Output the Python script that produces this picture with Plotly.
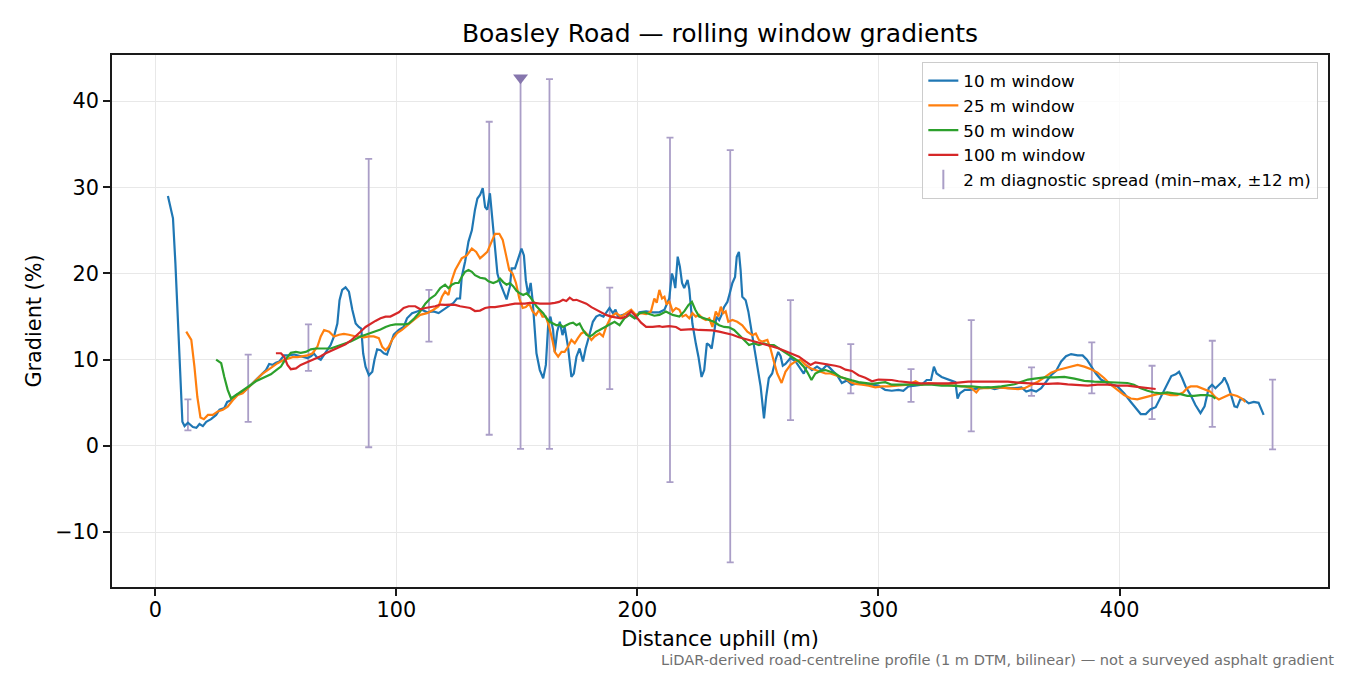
"""Boasley Road: rolling-window gradient profile from a LiDAR centreline."""
import plotly.graph_objects as go

# (distance uphill m, gradient %)
WIN_10 = [
    (5.2, 29.0), (7.3, 26.4), (8.3, 21.2), (9.4, 13.4), (10.5, 6.1), (11.2, 2.8),
    (12.1, 2.3), (13.5, 2.7), (15.6, 2.2), (17.0, 2.1), (18.3, 2.55), (19.7, 2.3),
    (21.1, 2.8), (23.1, 3.1), (25.2, 3.6), (26.6, 4.2), (28.6, 4.4), (29.8, 5.1),
    (31.4, 5.3), (33.5, 5.9), (35.5, 6.1), (37.6, 6.5), (39.7, 7.1), (41.7, 7.65),
    (43.8, 8.2), (45.9, 8.8), (47.2, 9.5), (48.6, 9.4), (50.0, 9.65), (51.4, 9.8),
    (53.4, 10.5), (55.5, 10.5), (57.6, 10.6), (59.7, 10.4), (61.7, 10.3), (63.1, 10.2),
    (64.5, 10.4), (65.8, 10.7), (67.2, 10.2), (68.6, 10.0), (70.0, 10.6), (71.3, 11.1),
    (72.7, 11.7), (74.1, 12.7), (75.5, 14.2), (76.4, 16.9), (77.5, 18.1), (78.9, 18.4),
    (80.3, 17.9), (81.7, 15.8), (83.1, 14.2), (84.4, 13.8), (85.4, 13.6), (86.2, 10.75),
    (87.2, 9.2), (88.6, 8.2), (90.0, 8.6), (90.9, 10.0), (92.0, 11.2), (93.4, 11.1),
    (94.8, 10.75), (96.1, 10.6), (97.5, 11.9), (98.9, 12.9), (101.0, 13.45), (103.0, 13.8),
    (104.4, 14.8), (106.5, 15.4), (108.6, 15.6), (110.6, 15.8), (112.7, 15.5), (115.4, 15.6),
    (117.5, 15.4), (119.6, 15.8), (121.6, 16.2), (123.7, 16.6), (125.1, 17.1), (126.4, 17.1),
    (127.1, 19.6), (128.5, 21.4), (129.9, 23.7), (131.3, 25.0), (132.6, 27.4), (133.6, 28.7),
    (134.7, 29.1), (135.8, 29.9), (136.8, 27.7), (137.7, 27.4), (138.8, 29.3), (139.8, 26.2),
    (140.9, 23.5), (141.9, 20.0), (143.0, 18.9), (144.3, 17.9), (145.7, 17.0), (147.1, 18.5),
    (147.8, 20.6), (149.2, 20.6), (150.5, 21.6), (151.9, 22.9), (152.9, 22.1), (153.7, 19.2),
    (154.7, 17.5), (155.7, 18.9), (156.5, 16.9), (157.4, 13.45), (158.1, 10.75), (159.5, 8.8),
    (160.9, 7.85), (162.0, 9.4), (163.0, 14.2), (163.9, 15.0), (165.0, 13.45), (165.7, 10.9),
    (166.7, 13.25), (167.8, 14.4), (168.9, 12.85), (169.8, 13.8), (171.2, 11.5), (172.6, 8.0),
    (173.6, 8.4), (174.7, 10.35), (176.0, 11.3), (177.4, 9.8), (178.5, 11.3), (179.9, 12.7),
    (181.5, 14.4), (182.9, 15.0), (184.3, 15.2), (185.9, 15.0), (187.0, 15.5), (188.4, 16.0),
    (189.8, 15.4), (190.9, 15.8), (191.9, 15.0), (194.0, 15.2), (196.0, 15.4), (198.1, 15.0),
    (199.4, 14.8), (200.8, 15.5), (203.6, 15.6), (206.3, 15.5), (209.1, 15.5), (211.2, 15.8),
    (213.2, 17.1), (214.3, 20.0), (214.9, 19.5), (215.7, 18.3), (216.7, 21.95), (217.6, 20.8),
    (218.5, 18.9), (219.4, 18.3), (220.8, 19.25), (221.5, 18.2), (222.8, 14.2), (224.2, 11.9),
    (225.3, 10.35), (226.6, 8.0), (227.7, 8.8), (228.8, 11.9), (229.8, 11.7), (230.8, 11.3),
    (231.8, 13.45), (232.8, 15.0), (233.9, 14.6), (234.9, 15.2), (235.9, 16.1), (237.3, 16.7),
    (238.3, 17.7), (239.4, 18.9), (240.5, 19.6), (241.2, 21.95), (242.1, 22.5), (242.8, 20.4),
    (243.5, 17.3), (244.9, 16.9), (246.0, 15.6), (247.0, 13.8), (248.3, 11.5), (249.7, 9.2),
    (251.1, 6.9), (252.5, 3.2), (253.4, 5.7), (254.5, 7.85), (255.9, 8.4), (257.3, 10.0),
    (258.4, 10.9), (259.4, 10.4), (260.3, 9.3), (261.4, 9.5), (263.5, 10.2), (265.6, 9.8),
    (267.6, 9.0), (269.0, 8.4), (270.4, 9.3), (272.4, 8.8), (274.5, 9.2), (276.6, 8.8),
    (278.6, 9.4), (280.7, 8.8), (282.8, 8.2), (284.8, 7.3), (286.9, 7.6), (289.0, 7.1),
    (291.7, 7.3), (294.5, 7.1), (297.3, 7.1), (300.0, 7.0), (302.8, 6.5), (305.5, 6.4),
    (308.3, 6.5), (310.3, 6.4), (312.4, 6.9), (315.2, 7.0), (317.9, 7.1), (320.0, 7.65),
    (321.8, 7.65), (323.0, 9.2), (324.1, 8.4), (326.2, 8.0), (328.2, 7.8), (330.3, 7.55),
    (331.9, 7.4), (332.8, 5.5), (333.8, 6.1), (335.8, 6.5), (337.9, 6.5), (340.0, 6.6),
    (342.7, 6.7), (345.5, 6.8), (348.2, 6.6), (351.0, 6.8), (353.7, 6.7), (356.5, 6.7),
    (359.3, 6.8), (361.3, 6.3), (363.4, 6.5), (365.4, 6.3), (367.5, 6.7), (369.6, 7.45),
    (371.6, 8.2), (373.7, 8.7), (375.8, 9.8), (377.8, 10.4), (379.9, 10.65), (382.6, 10.5),
    (384.7, 10.5), (386.5, 10.0), (388.2, 9.2), (390.2, 8.4), (392.3, 7.7), (395.0, 7.3),
    (399.2, 6.9), (401.9, 6.1), (404.7, 5.1), (406.7, 4.4), (408.8, 3.7), (410.9, 3.7),
    (412.9, 4.25), (415.0, 4.5), (416.4, 5.3), (417.8, 6.1), (419.8, 7.2), (421.5, 8.1),
    (423.3, 8.3), (424.7, 8.6), (426.0, 7.85), (427.4, 6.9), (429.5, 5.9), (431.5, 4.75),
    (433.6, 3.8), (435.3, 4.6), (437.0, 6.7), (438.4, 7.1), (439.8, 6.7), (441.2, 7.1),
    (442.6, 7.45), (443.5, 7.95), (444.9, 7.1), (446.3, 5.9), (447.7, 4.6), (448.8, 4.5),
    (450.1, 5.4), (451.5, 5.4), (453.6, 4.95), (455.7, 5.1), (457.7, 5.0), (459.8, 3.6),
]

WIN_25 = [
    (12.8, 13.25), (14.9, 12.3), (16.2, 9.2), (17.4, 5.7), (18.7, 3.3), (20.1, 3.1),
    (21.8, 3.6), (23.8, 3.6), (25.9, 4.0), (28.0, 4.2), (30.0, 4.55), (32.1, 5.3),
    (34.2, 5.9), (36.2, 6.1), (38.3, 6.7), (40.4, 7.3), (42.4, 7.85), (44.5, 8.4),
    (46.6, 8.8), (48.6, 9.2), (50.7, 9.6), (52.8, 9.9), (54.8, 10.1), (56.9, 10.3),
    (59.0, 10.3), (61.0, 10.4), (63.1, 10.5), (65.2, 10.75), (67.2, 11.5), (68.6, 12.7),
    (70.0, 13.45), (72.1, 13.25), (74.1, 12.7), (76.2, 12.9), (78.2, 13.0), (80.3, 12.9),
    (82.4, 12.75), (84.4, 12.7), (86.5, 12.6), (88.6, 12.7), (90.6, 12.7), (92.7, 12.5),
    (94.1, 11.5), (95.5, 11.1), (96.8, 11.5), (98.2, 12.3), (100.3, 13.1), (102.3, 13.45),
    (104.4, 14.0), (107.1, 14.6), (109.9, 15.2), (112.7, 15.4), (115.4, 15.8), (117.5, 16.2),
    (118.9, 17.3), (120.2, 17.9), (121.6, 17.5), (123.0, 19.25), (124.4, 20.4), (125.8, 21.2),
    (127.1, 21.75), (129.2, 22.1), (131.3, 22.9), (133.1, 22.5), (134.7, 21.75), (136.1, 22.1),
    (137.7, 22.5), (139.5, 23.7), (140.9, 24.6), (142.7, 24.6), (144.1, 23.9), (145.5, 22.1),
    (146.8, 20.4), (148.2, 20.0), (149.6, 18.9), (151.0, 17.1), (152.4, 16.0), (153.7, 16.1),
    (155.1, 16.5), (156.5, 15.6), (157.9, 15.2), (159.2, 15.8), (160.6, 15.0), (162.0, 15.0),
    (163.4, 13.8), (164.7, 12.3), (165.7, 10.9), (167.1, 10.35), (168.5, 10.9), (169.8, 10.9),
    (171.2, 11.5), (172.6, 12.3), (174.0, 11.9), (175.3, 12.5), (176.7, 13.05), (178.1, 13.25),
    (179.5, 12.85), (180.9, 12.3), (182.2, 12.7), (184.3, 13.05), (185.7, 12.7), (187.0, 13.8),
    (189.1, 15.0), (191.2, 15.4), (193.2, 15.0), (195.3, 15.4), (197.4, 15.8), (199.4, 15.2),
    (201.5, 15.4), (203.6, 15.3), (205.6, 15.6), (207.0, 17.1), (208.0, 16.6), (209.1, 18.1),
    (210.2, 17.1), (211.2, 17.3), (212.1, 16.4), (213.2, 16.8), (214.6, 15.6), (216.0, 16.0),
    (217.4, 15.8), (218.7, 15.0), (220.1, 15.2), (221.5, 14.8), (222.8, 15.4), (224.2, 15.0),
    (225.6, 15.2), (227.0, 14.8), (228.4, 14.6), (229.8, 14.8), (231.1, 13.8), (232.5, 15.6),
    (233.6, 15.0), (234.6, 16.15), (235.6, 15.4), (236.6, 15.6), (237.7, 14.4), (239.4, 14.6),
    (241.4, 14.4), (243.5, 14.0), (245.6, 13.25), (247.7, 12.85), (249.1, 13.05), (250.4, 12.3),
    (251.8, 12.1), (253.9, 12.3), (255.2, 11.3), (256.6, 9.8), (258.0, 8.4), (259.8, 7.3),
    (261.4, 8.6), (263.5, 9.4), (265.6, 9.8), (267.6, 10.0), (269.7, 9.4), (271.8, 9.0),
    (273.8, 8.8), (275.9, 8.6), (278.0, 8.4), (280.1, 8.4), (282.1, 8.2), (284.2, 8.0),
    (286.3, 7.8), (288.3, 7.4), (290.4, 7.2), (293.2, 7.1), (295.9, 7.0), (298.7, 6.8),
    (301.4, 6.9), (304.1, 6.9), (308.3, 7.0), (312.4, 7.1), (315.4, 7.5), (317.9, 7.1),
    (320.7, 7.3), (323.4, 7.2), (327.5, 7.1), (331.7, 7.0), (335.8, 6.9), (338.6, 6.7),
    (340.6, 6.2), (342.0, 6.7), (345.5, 6.7), (349.6, 6.8), (353.7, 6.7), (357.9, 6.6),
    (360.6, 6.7), (363.4, 7.1), (366.1, 7.45), (368.9, 7.95), (371.6, 8.5), (374.4, 8.8),
    (377.1, 9.0), (379.9, 9.2), (382.6, 9.4), (385.4, 9.2), (388.2, 8.9), (390.9, 8.5),
    (393.7, 7.85), (396.4, 7.1), (399.2, 6.5), (401.9, 5.9), (404.7, 5.5), (407.4, 5.4),
    (410.1, 5.6), (412.9, 5.8), (415.7, 6.0), (418.4, 6.1), (421.2, 5.9), (423.9, 5.9),
    (426.4, 6.2), (428.0, 6.7), (429.5, 6.9), (432.2, 6.9), (435.0, 6.6), (437.7, 6.3),
    (439.8, 5.65), (441.2, 5.4), (443.2, 5.65), (446.0, 6.0), (448.8, 5.8), (450.8, 5.5),
    (452.2, 5.1),
]

WIN_50 = [
    (25.2, 10.0), (27.3, 9.6), (28.6, 8.0), (30.0, 6.5), (31.4, 5.5), (33.5, 5.9),
    (35.5, 6.2), (37.6, 6.7), (39.7, 7.1), (41.7, 7.5), (43.8, 7.8), (45.9, 8.05),
    (47.9, 8.3), (50.0, 8.75), (52.1, 9.2), (53.4, 9.8), (54.8, 10.35), (56.2, 10.8),
    (58.3, 10.9), (60.3, 10.8), (62.4, 10.9), (64.5, 11.2), (66.5, 11.3), (68.6, 11.3),
    (70.7, 11.3), (72.7, 11.3), (74.8, 11.5), (76.9, 11.7), (78.9, 11.9), (81.0, 12.1),
    (83.1, 12.4), (85.1, 12.7), (87.2, 12.9), (89.3, 13.1), (91.3, 13.25), (93.4, 13.5),
    (95.5, 13.8), (97.5, 14.0), (99.6, 14.1), (101.7, 14.1), (103.7, 14.1), (105.1, 14.2),
    (107.1, 14.7), (109.9, 15.6), (112.0, 16.5), (114.0, 17.1), (116.1, 17.5), (118.2, 18.3),
    (120.2, 18.7), (121.6, 18.3), (123.0, 18.7), (124.4, 18.9), (125.8, 18.9), (127.1, 19.6),
    (128.5, 20.2), (129.9, 20.4), (131.3, 20.2), (132.6, 19.8), (134.7, 19.5), (136.8, 19.4),
    (138.2, 19.1), (140.2, 18.9), (141.9, 19.1), (143.0, 19.4), (144.3, 19.0), (145.7, 18.7),
    (147.1, 18.9), (148.5, 18.5), (149.8, 18.0), (151.2, 17.7), (152.6, 17.5), (154.0, 17.7),
    (155.4, 17.3), (156.7, 16.8), (158.1, 16.2), (159.5, 15.8), (160.9, 15.4), (162.3, 14.8),
    (163.6, 14.4), (165.0, 14.2), (166.4, 14.0), (167.8, 14.1), (169.1, 13.8), (170.5, 14.0),
    (171.9, 14.2), (173.3, 14.3), (174.7, 14.0), (176.0, 14.2), (177.4, 13.45), (178.8, 12.9),
    (180.2, 12.7), (181.5, 12.9), (182.9, 13.25), (184.3, 13.45), (186.4, 13.8), (188.4, 14.1),
    (190.5, 14.4), (192.6, 14.0), (194.6, 14.8), (196.7, 15.2), (198.8, 14.8), (200.8, 15.4),
    (202.9, 15.5), (204.9, 15.3), (207.0, 15.1), (209.1, 15.2), (211.8, 15.6), (214.6, 15.2),
    (217.4, 15.0), (219.4, 15.6), (221.2, 16.35), (222.6, 16.7), (224.0, 15.8), (225.6, 15.0),
    (227.7, 14.8), (229.8, 14.6), (231.8, 14.4), (233.9, 14.0), (236.0, 13.8), (238.0, 13.75),
    (240.1, 13.45), (242.1, 12.9), (244.2, 12.3), (246.3, 11.7), (248.3, 11.9), (250.4, 11.7),
    (252.5, 11.9), (254.5, 11.7), (256.6, 11.7), (258.7, 11.3), (260.7, 10.9), (262.8, 10.5),
    (264.9, 10.2), (266.9, 9.8), (269.0, 9.2), (270.4, 8.6), (272.2, 7.65), (273.8, 8.4),
    (275.9, 8.7), (278.0, 8.8), (280.1, 8.6), (282.1, 8.4), (284.2, 8.0), (286.3, 7.8),
    (289.0, 7.6), (291.7, 7.4), (294.5, 7.3), (297.3, 7.2), (300.0, 7.3), (302.8, 7.4),
    (305.5, 7.1), (309.6, 7.1), (313.8, 7.1), (317.9, 7.1), (322.1, 7.1), (326.2, 7.0),
    (330.3, 7.0), (334.5, 6.9), (338.6, 6.9), (342.7, 6.8), (346.8, 6.8), (351.0, 6.9),
    (353.7, 7.0), (356.5, 7.15), (359.3, 7.45), (362.0, 7.7), (364.8, 7.8), (368.9, 7.95),
    (373.0, 7.95), (377.1, 8.0), (381.3, 7.8), (385.4, 7.55), (389.5, 7.45), (393.7, 7.4),
    (397.8, 7.4), (401.0, 7.4), (403.3, 7.3), (406.0, 7.1), (408.8, 6.7), (411.6, 6.4),
    (414.3, 6.2), (417.1, 6.1), (419.8, 6.2), (422.6, 6.1), (425.3, 6.0), (428.1, 5.8),
    (430.9, 5.8), (433.6, 5.9), (436.4, 5.9), (438.4, 5.8), (439.8, 5.5),
]

WIN_100 = [
    (50.0, 10.75), (52.1, 10.75), (53.4, 10.35), (54.8, 9.4), (56.2, 8.9), (58.3, 9.0),
    (60.3, 9.4), (62.4, 9.65), (64.5, 9.95), (66.5, 10.2), (68.6, 10.4), (70.7, 10.75),
    (72.7, 11.0), (74.8, 11.3), (76.9, 11.5), (78.9, 11.8), (81.0, 12.2), (83.1, 12.7),
    (85.1, 13.25), (87.2, 13.8), (89.3, 14.2), (91.3, 14.5), (93.4, 14.8), (95.5, 15.0),
    (97.5, 15.0), (98.9, 15.2), (101.0, 15.5), (103.0, 16.0), (105.1, 16.2), (107.8, 16.2),
    (109.9, 15.85), (112.0, 16.0), (114.0, 16.1), (116.1, 16.2), (118.2, 16.4), (120.2, 16.35),
    (122.3, 16.4), (124.4, 16.35), (126.4, 16.2), (128.5, 16.1), (130.6, 16.0), (132.6, 15.65),
    (134.7, 15.7), (136.8, 16.0), (138.8, 16.1), (140.9, 16.1), (143.0, 16.2), (145.0, 16.35),
    (147.1, 16.45), (149.2, 16.5), (151.2, 16.5), (153.3, 16.5), (155.4, 16.6), (157.4, 16.6),
    (159.5, 16.5), (161.6, 16.5), (163.6, 16.5), (165.7, 16.6), (167.5, 16.7), (169.1, 16.95),
    (170.5, 16.8), (171.9, 17.2), (173.3, 16.9), (174.7, 16.95), (176.7, 16.7), (178.8, 16.5),
    (180.9, 16.1), (182.9, 15.8), (185.0, 15.4), (187.0, 15.2), (189.1, 15.0), (191.2, 14.9),
    (193.2, 14.8), (195.3, 15.0), (197.4, 15.6), (199.4, 15.0), (201.5, 14.3), (203.6, 13.8),
    (206.3, 13.8), (209.1, 13.9), (210.4, 13.8), (213.2, 13.9), (216.0, 13.8), (218.0, 13.45),
    (220.1, 13.5), (222.8, 13.55), (225.6, 13.45), (228.4, 13.45), (231.1, 13.4), (233.9, 13.25),
    (236.6, 13.05), (239.4, 12.9), (242.1, 12.6), (244.9, 12.4), (247.7, 12.2), (250.4, 12.0),
    (253.2, 11.8), (255.9, 11.55), (258.7, 11.3), (261.4, 11.0), (264.2, 10.7), (267.0, 10.35),
    (269.7, 9.8), (271.8, 9.4), (273.8, 9.7), (275.9, 9.6), (278.0, 9.55), (280.1, 9.4),
    (282.1, 9.3), (284.2, 9.15), (286.3, 8.85), (289.0, 8.7), (291.7, 8.2), (294.5, 7.9),
    (297.3, 7.5), (300.0, 7.7), (302.8, 7.7), (305.5, 7.65), (308.3, 7.5), (312.4, 7.35),
    (316.5, 7.25), (320.7, 7.25), (324.8, 7.25), (328.9, 7.25), (333.1, 7.35), (337.2, 7.45),
    (341.3, 7.45), (345.5, 7.45), (349.6, 7.45), (353.7, 7.45), (357.9, 7.35), (362.0, 7.25),
    (366.1, 7.2), (370.3, 7.2), (374.4, 7.25), (378.5, 7.15), (382.6, 7.1), (386.8, 7.0),
    (390.9, 7.1), (395.0, 7.1), (399.2, 7.0), (403.3, 7.0), (407.4, 6.85), (411.6, 6.7),
    (415.0, 6.6),
]

# 2 m diagnostic spread: station, min, max (151.5 m runs off the top, shown clipped)
SPREAD_X = [13.5, 38.5, 63.5, 88.5, 113.5, 138.5, 151.5, 163.5, 188.5, 213.5,
            238.5, 263.5, 288.5, 313.5, 338.5, 363.5, 388.5, 413.5, 438.5, 463.5]
SPREAD_MIN = [1.8, 2.8, 8.7, -0.15, 12.1, 1.3, -0.35, -0.35, 6.6, -4.2,
              -13.5, 3.0, 6.1, 5.1, 1.7, 5.8, 6.1, 3.1, 2.2, -0.4]
SPREAD_MAX = [5.4, 10.6, 14.1, 33.3, 18.1, 37.6, 42.7, 42.55, 18.35, 35.75,
              34.3, 16.9, 11.8, 8.9, 14.6, 9.1, 12.0, 9.3, 12.2, 7.7]
CLIPPED_X = [151.5]
CLIPPED_Y = [42.7]

SERIES = [
    ("10 m window", WIN_10, "#1f77b4"),
    ("25 m window", WIN_25, "#ff7f0e"),
    ("50 m window", WIN_50, "#2ca02c"),
    ("100 m window", WIN_100, "#d62728"),
]

FONT = "DejaVu Sans"
SPREAD_COLOR = "#aa9ec7"

fig = go.Figure()

# spread bars first so the gradient lines sit on top
mid = [(lo + hi) / 2 for lo, hi in zip(SPREAD_MIN, SPREAD_MAX)]
fig.add_trace(
    go.Scatter(
        x=SPREAD_X,
        y=mid,
        mode="markers",
        marker={"size": 0.1, "opacity": 0},
        error_y={
            "type": "data",
            "symmetric": False,
            "array": [hi - m for hi, m in zip(SPREAD_MAX, mid)],
            "arrayminus": [m - lo for lo, m in zip(SPREAD_MIN, mid)],
            "color": SPREAD_COLOR,
            "thickness": 1.8,
            "width": 3.5,
        },
        showlegend=False,
        hoverinfo="skip",
    )
)
fig.add_trace(
    go.Scatter(
        x=CLIPPED_X,
        y=CLIPPED_Y,
        mode="markers",
        marker={"symbol": "triangle-down", "size": 13, "color": "#8676ad"},
        showlegend=False,
        hoverinfo="skip",
    )
)

for name, pts, color in SERIES:
    fig.add_trace(
        go.Scatter(
            x=[p[0] for p in pts],
            y=[p[1] for p in pts],
            name=name,
            mode="lines",
            line={"color": color, "width": 2.2},
        )
    )

# legend-only entry for the spread bars
fig.add_trace(
    go.Scatter(
        x=[None],
        y=[None],
        name="2 m diagnostic spread (min\u2013max, \u00b112 m)",
        mode="markers",
        marker={"symbol": "line-ns", "size": 14, "line": {"color": SPREAD_COLOR, "width": 2}},
    )
)

axis_style = dict(
    showgrid=True,
    gridcolor="#e8e8e8",
    gridwidth=1.3,
    zeroline=False,
    showline=True,
    mirror=True,
    linecolor="#1a1a1a",
    linewidth=1.6,
    ticks="outside",
    ticklen=7,
    tickwidth=1.6,
    tickcolor="#1a1a1a",
    tickfont={"family": FONT, "size": 20.8, "color": "black"},
)

fig.update_xaxes(
    range=[-18, 486.5],
    tickvals=[0, 100, 200, 300, 400],
    ticklabelstandoff=-4,
    automargin=True,
    title={
        "text": "Distance uphill (m)",
        "standoff": 11,
        "font": {"family": FONT, "size": 20.8, "color": "black"},
    },
    **axis_style,
)
fig.update_yaxes(
    range=[-16.36, 45.34],
    tickvals=[-10, 0, 10, 20, 30, 40],
    automargin=True,
    title={
        "text": "Gradient (%)",
        "standoff": 8,
        "font": {"family": FONT, "size": 20.8, "color": "black"},
    },
    **axis_style,
)

fig.update_layout(
    width=1350,
    height=675,
    margin={"l": 112, "r": 22, "t": 55, "b": 88},
    paper_bgcolor="white",
    plot_bgcolor="white",
    font={"family": FONT, "color": "black"},
    title={
        "text": "Boasley Road \u2014 rolling window gradients",
        "x": 720 / 1350,
        "xanchor": "center",
        "y": 1 - 33 / 675,
        "yanchor": "middle",
        "font": {"family": FONT, "size": 25, "color": "black"},
    },
    legend={
        "x": 0.9918,
        "y": 0.9868,
        "xanchor": "right",
        "yanchor": "top",
        "bgcolor": "rgba(255,255,255,0.8)",
        "bordercolor": "#cccccc",
        "borderwidth": 1.3,
        "font": {"family": FONT, "size": 16.7, "color": "black"},
    },
    annotations=[
        {
            "text": "LiDAR-derived road-centreline profile (1 m DTM, bilinear) \u2014 not a surveyed asphalt gradient",
            "xref": "paper",
            "yref": "paper",
            "x": 1,
            "y": 0,
            "xanchor": "right",
            "yanchor": "middle",
            "xshift": 8,
            "yshift": -72,
            "showarrow": False,
            "font": {"family": FONT, "size": 14.6, "color": "#707070"},
        }
    ],
)

# drop the browser's default body margin so the figure sits at the window origin
fig.write_html(
    "out.html",
    config={"displayModeBar": False},
    post_script="document.body.style.margin = '0';",
)
